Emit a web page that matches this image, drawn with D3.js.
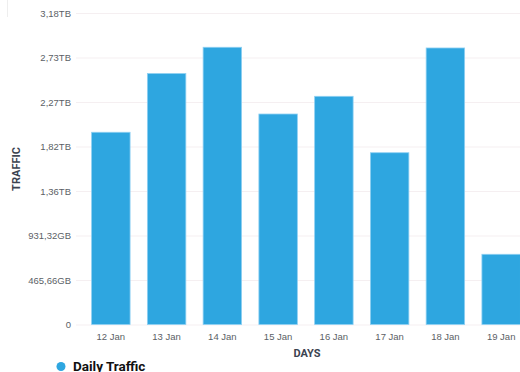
<!DOCTYPE html>
<html>
<head>
<meta charset="utf-8">
<script src="https://cdn.jsdelivr.net/npm/d3@7"></script>
<style>
	body { margin: 0; background: #ffffff; overflow: hidden; }
	svg { display: block; font-family: Roboto, "Liberation Sans", sans-serif; }
</style>
</head>
<body>
<svg id="trafficChart"></svg>
<script>
// daily traffic in bytes
var days = ["12 Jan", "13 Jan", "14 Jan", "15 Jan", "16 Jan", "17 Jan", "18 Jan", "19 Jan"];
var traffic = [2.16e12, 2.82e12, 3.115e12, 2.365e12, 2.564e12, 1.93e12, 3.107e12, 0.789e12];
var yTicks = [0, 0.5e12, 1e12, 1.5e12, 2e12, 2.5e12, 3e12, 3.5e12];
var seriesName = "Daily Traffic";

var width = 520, height = 372;
var margin = { top: 13, left: 76, bottom: 324.5, right: 536 };

var svg = d3.select("#trafficChart")
	.attr("width", width)
	.attr("height", height);

var xScale = d3.scaleBand()
	.domain(days)
	.range([margin.left, margin.right])
	.paddingInner(0.31)
	.paddingOuter(0.28);
var yScale = d3.scaleLinear()
	.domain([0, 3.5e12])
	.range([margin.bottom, margin.top]);

function formatBytes(v) {
	if (v == 0) { return "0"; }
	var tb = Math.pow(1024, 4), gb = Math.pow(1024, 3);
	if (v >= tb) { return (v / tb).toFixed(2).replace(".", ",") + "TB"; }
	return (v / gb).toFixed(2).replace(".", ",") + "GB";
}

// faint frame corner at the top left
svg.append("line")
	.attr("x1", 7.5).attr("x2", 7.5)
	.attr("y1", 0).attr("y2", 17)
	.attr("stroke", "#eeeeee");

// y axis with gridlines
var yAxis = d3.axisLeft(yScale)
	.tickValues(yTicks)
	.tickFormat(formatBytes)
	.tickSize(-(width - margin.left))
	.tickPadding(5);
var yAxisLine = svg.append("g")
	.attr("class", "yAxis")
	.attr("transform", "translate(" + margin.left + ",0)")
	.call(yAxis);
yAxisLine.select(".domain").remove();
yAxisLine.selectAll(".tick line").attr("stroke", "#f5eff1");
yAxisLine.selectAll(".tick text")
	.attr("fill", "#5b5f66")
	.attr("font-size", "9.5px");

// bars
svg.append("g").selectAll(".bar")
	.data(traffic)
	.enter()
	.append("rect")
	.attr("class", "bar")
	.attr("x", function(d, i) { return xScale(days[i]); })
	.attr("y", function(d) { return yScale(d); })
	.attr("width", xScale.bandwidth())
	.attr("height", function(d) { return yScale(0) - yScale(d); })
	.attr("fill", "#2ea6e0")
	.attr("stroke", "#8fd0f2")
	.attr("stroke-width", 0.8);

// x axis
var xAxis = d3.axisBottom(xScale).tickSize(0).tickPadding(9);
var xAxisLine = svg.append("g")
	.attr("class", "xAxis")
	.attr("transform", "translate(0," + margin.bottom + ")")
	.call(xAxis);
xAxisLine.select(".domain").remove();
xAxisLine.selectAll(".tick text")
	.attr("fill", "#5b5f66")
	.attr("font-size", "9.5px");

// axis titles
svg.append("text")
	.attr("transform", "translate(20,169) rotate(-90)")
	.attr("text-anchor", "middle")
	.attr("font-size", "11px")
	.attr("font-weight", "bold")
	.attr("fill", "#3b4350")
	.text("TRAFFIC");
svg.append("text")
	.attr("x", 307)
	.attr("y", 357)
	.attr("text-anchor", "middle")
	.attr("font-size", "11px")
	.attr("font-weight", "bold")
	.attr("fill", "#3b4350")
	.text("DAYS");

// legend
var legend = svg.append("g").attr("transform", "translate(61,366.5)");
legend.append("circle")
	.attr("r", 4.5)
	.attr("fill", "#2ea6e0");
legend.append("text")
	.attr("x", 12)
	.attr("y", 4)
	.attr("font-size", "13.5px")
	.attr("font-weight", "bold")
	.attr("fill", "#111111")
	.text(seriesName);
</script>
</body>
</html>
